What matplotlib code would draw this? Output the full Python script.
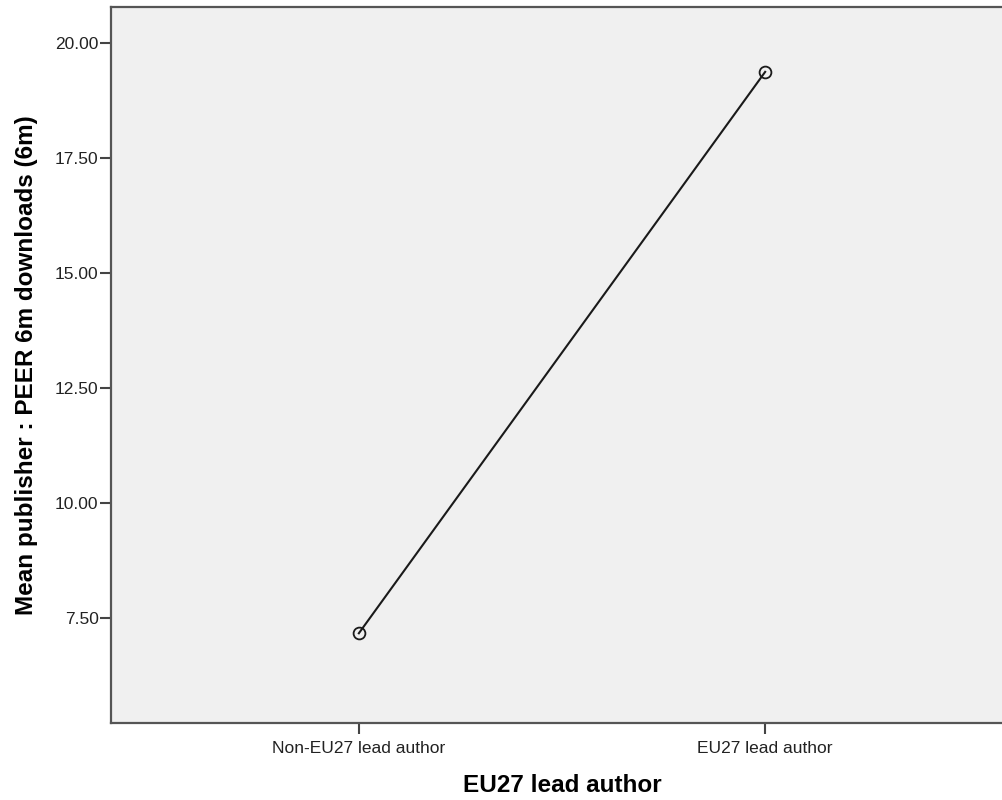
import matplotlib
matplotlib.use("Agg")
import matplotlib.pyplot as plt
from matplotlib.ticker import FormatStrFormatter

# data
categories = ["Non-EU27 lead author", "EU27 lead author"]
means = [7.17, 19.37]
y_ticks = [7.5, 10.0, 12.5, 15.0, 17.5, 20.0]


def main():
    plt.rcParams['font.family'] = ['Liberation Sans', 'DejaVu Sans']

    fig = plt.figure(figsize=(10.02, 8.0), dpi=100)
    # axes runs off the right edge, as in the reference
    ax = fig.add_axes([111 / 1002, 1 - 723 / 800, 902 / 1002, 716 / 800])
    ax.set_facecolor('#f0f0f0')

    x = list(range(len(categories)))
    ax.plot(x, means, color='#1a1a1a', lw=1.5, marker='o', markersize=8.5,
            markerfacecolor='none', markeredgecolor='#1a1a1a', markeredgewidth=1.3)

    ax.set_xlim(-0.61, 1.61)
    ax.set_ylim(5.22, 20.78)
    ax.set_xticks(x)
    ax.set_xticklabels(categories)
    ax.set_yticks(y_ticks)
    ax.yaxis.set_major_formatter(FormatStrFormatter('%.2f'))

    for s in ax.spines.values():
        s.set_color('#555555')
        s.set_linewidth(1.6)

    ax.tick_params(axis='both', direction='out', length=8, width=1.5,
                   color='#444444', labelsize=12.5, labelcolor='#222222')
    ax.tick_params(axis='x', pad=5)
    ax.tick_params(axis='y', pad=1)

    ax.set_xlabel('EU27 lead author', fontsize=17.5, fontweight='bold', labelpad=13)
    ax.set_ylabel('Mean publisher : PEER 6m downloads (6m)', fontsize=17.5,
                  fontweight='bold', labelpad=12)

    fig.savefig('out.png', dpi=100)


if __name__ == '__main__':
    main()
